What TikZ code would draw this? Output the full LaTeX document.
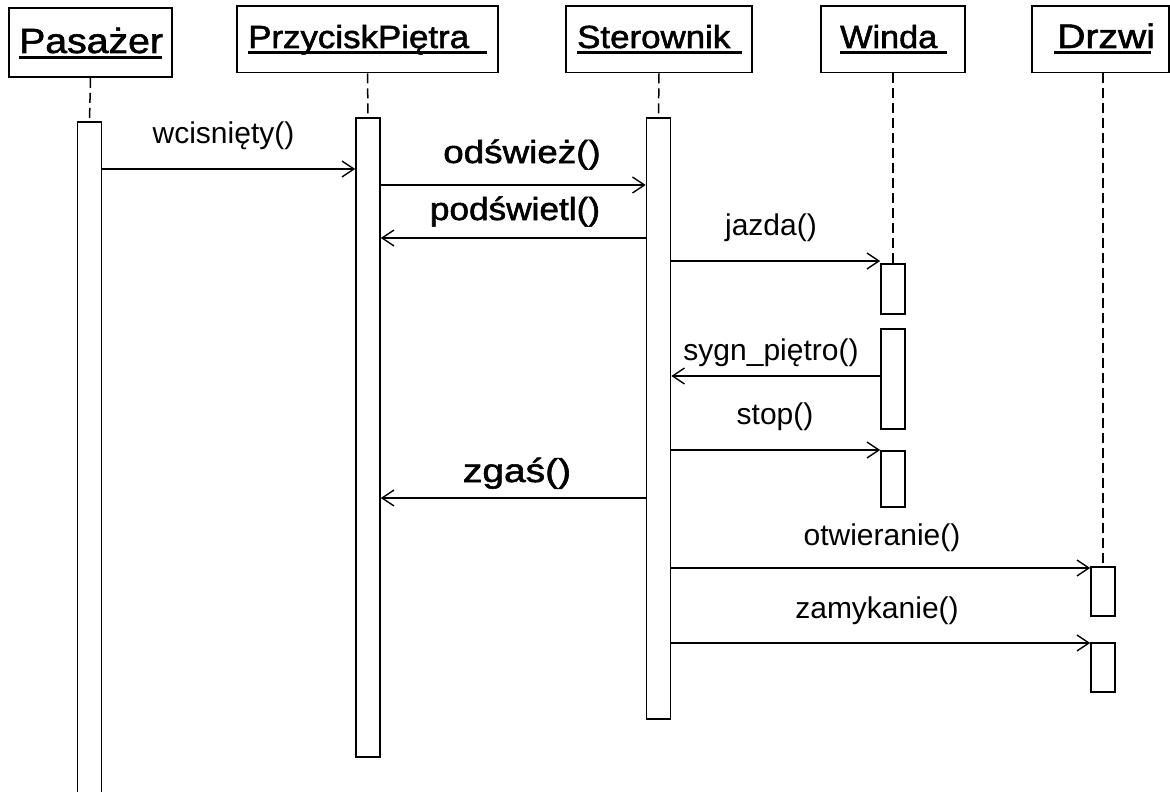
\documentclass[tikz,border=0pt]{standalone}
\usepackage{fontspec}
\setmainfont{Liberation Sans}
\newfontfamily\heavyfont{Liberation Sans}[FakeBold=1.6]
\usetikzlibrary{arrows.meta}

\tikzset{
  hdr/.style={draw, rectangle, line width=1.6pt, inner sep=0pt},
  hdrtext/.style={anchor=base west, inner sep=0pt, font=\fontsize{#1}{40pt}\selectfont\heavyfont},
  uline/.style={line width=2.6pt},
  act/.style={draw, rectangle, fill=white, line width=1.6pt, minimum width=24pt, inner sep=0pt, anchor=north},
  life/.style={line width=1.5pt, dash pattern=on 10pt off 5pt},
  msg/.style={line width=1.4pt, -{Straight Barb[length=12pt,width=16pt,line width=1.4pt]}},
  lbl/.style={anchor=base, inner sep=0pt, font=\fontsize{30pt}{34pt}\selectfont},
  blbl/.style={anchor=base, inner sep=0pt, font=\fontsize{#1}{36pt}\selectfont\heavyfont},
}
% horizontal stretch for the wide screen lettering
\newcommand{\wide}[2]{\scalebox{#1}[1]{#2}}

\begin{document}
\begin{tikzpicture}[x=1pt,y=-1pt]
\useasboundingbox (0,0) rectangle (1170,792);
\clip (0,0) rectangle (1170,792);

% object headers
\node[hdr, minimum width=163pt, minimum height=69pt]   (hPas) at (90.5,42.5) {};
\node[hdr, minimum width=261pt, minimum height=66.5pt] (hPrz) at (367.5,39.25) {};
\node[hdr, minimum width=186pt, minimum height=66.5pt] (hSte) at (659,39.25) {};
\node[hdr, minimum width=144pt, minimum height=66.5pt] (hWin) at (893,39.25) {};
\node[hdr, minimum width=137pt, minimum height=66.5pt] (hDrz) at (1100.5,39.25) {};

\node[hdrtext=35pt] (tPas) at (19,53) {\wide{1.12}{Pasażer}};
\node[hdrtext=32pt] (tPrz) at (248,48) {\wide{1.09}{PrzyciskPiętra}};
\node[hdrtext=32pt] (tSte) at (577,48) {\wide{1.09}{Sterownik}};
\node[hdrtext=32pt] (tWin) at (840,48) {\wide{1.07}{Winda}};
\node[hdrtext=34pt] (tDrz) at (1057,48) {\wide{1.15}{Drzwi}};

\draw[uline] (19,57.5) -- (162,57.5);
\draw[uline] (248,52.5) -- (487,52.5);
\draw[uline] (577,52.5) -- (742,52.5);
\draw[uline] (840,52.5) -- (947,52.5);
\draw[uline] (1054,52.5) -- (1151,52.5);

% activation bars
\node[act, minimum height=700pt] (aPas)  at (89.5,121) {};
\node[act, minimum height=639pt] (aPrz)  at (368,117) {};
\node[act, minimum height=601pt] (aSte)  at (658.5,117) {};
\node[act, minimum height=50pt]  (aWin1) at (893,263) {};
\node[act, minimum height=100pt] (aWin2) at (893,328) {};
\node[act, minimum height=56pt]  (aWin3) at (893,450) {};
\node[act, minimum height=49pt]  (aDrz1) at (1103,566) {};
\node[act, minimum height=49pt]  (aDrz2) at (1103,642) {};

% lifelines
\draw[life] (hPas.south) -- (aPas.north);
\draw[life] (hPrz.south) -- (aPrz.north);
\draw[life] (hSte.south) -- (aSte.north);
\draw[life] (hWin.south) -- (aWin1.north);
\draw[life] (hDrz.south -| aDrz1.north) -- (aDrz1.north);

% message heights
\coordinate (y1) at (0,169);
\coordinate (y2) at (0,185);
\coordinate (y3) at (0,238);
\coordinate (y4) at (0,261);
\coordinate (y5) at (0,376);
\coordinate (y6) at (0,450);
\coordinate (y7) at (0,498);
\coordinate (y8) at (0,568);
\coordinate (y9) at (0,643);

% messages
\draw[msg] (aPas.east |- y1) -- (aPrz.west |- y1);
\draw[msg] (aPrz.east |- y2) -- (aSte.west |- y2);
\draw[msg] (aSte.west |- y3) -- (aPrz.east |- y3);
\draw[msg] (aSte.east |- y4) -- (aWin1.west |- y4);
\draw[msg] (aWin2.west |- y5) -- (aSte.east |- y5);
\draw[msg] (aSte.east |- y6) -- (aWin3.west |- y6);
\draw[msg] (aSte.west |- y7) -- (aPrz.east |- y7);
\draw[msg] (aSte.east |- y8) -- (aDrz1.west |- y8);
\draw[msg] (aSte.east |- y9) -- (aDrz2.west |- y9);

% message labels
\node[lbl] (m1) at (223.5,143) {wcisnięty()};
\node[blbl=32pt] (m2) at (522,163) {\wide{1.15}{odśwież()}};
\node[blbl=32pt] (m3) at (515,220) {\wide{1.1}{podświetl()}};
\node[lbl] (m4) at (771,235) {jazda()};
\node[lbl] (m5) at (771,360) {sygn\_piętro()};
\node[lbl] (m6) at (775,424) {stop()};
\node[blbl=33pt] (m7) at (517,482) {\wide{1.18}{zgaś()}};
\node[lbl] (m8) at (882,545) {otwieranie()};
\node[lbl] (m9) at (877,618) {zamykanie()};
\end{tikzpicture}
\end{document}
